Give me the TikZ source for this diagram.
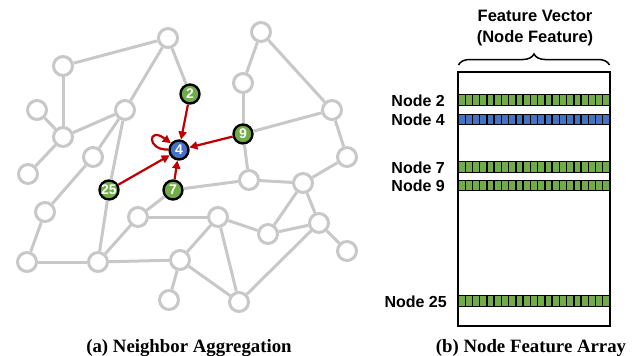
\documentclass[tikz,border=0pt]{standalone}
\usepackage{fontspec}
\setmainfont{Liberation Serif}
\newfontfamily\arial{Liberation Sans}
\usetikzlibrary{arrows.meta,decorations.pathreplacing}
\definecolor{edgegray}{RGB}{200,200,200}
\definecolor{ngreen}{RGB}{112,173,71}
\definecolor{nblue}{RGB}{68,114,196}
\definecolor{ared}{RGB}{192,0,0}
\tikzset{
  gnode/.style={circle,draw=edgegray,line width=3pt,fill=white,minimum size=19pt,inner sep=0pt},
  cnode/.style={circle,draw=black,line width=2.4pt,minimum size=19pt,inner sep=0pt,text=white,font=\arial\bfseries\fontsize{14}{14}\selectfont},
  gedge/.style={draw=edgegray,line width=3pt},
  redarr/.style={draw=ared,line width=2.2pt,-{Triangle[length=8pt,width=8pt]}},
  rowlabel/.style={anchor=base east,inner sep=0pt,font=\arial\bfseries\fontsize{16}{16}\selectfont},
  caption/.style={anchor=base,inner sep=0pt,font=\bfseries\fontsize{18.8}{20}\selectfont},
  title/.style={anchor=base,inner sep=0pt,font=\arial\bfseries\fontsize{16.5}{18}\selectfont},
  cell/.style={draw=black,line width=1.4pt}
}
\begin{document}
\begin{tikzpicture}[x=1pt,y=-1pt]
\useasboundingbox (0,0) rectangle (635,356);
% gray nodes
\node[gnode] (A) at (168,38) {};
\node[gnode] (B) at (63,66) {};
\node[gnode] (C) at (37,110) {};
\node[gnode] (D) at (63,137) {};
\node[gnode] (E) at (125,110) {};
\node[gnode] (F) at (93,157) {};
\node[gnode] (G) at (28,174) {};
\node[gnode] (T) at (45,212) {};
\node[gnode] (U) at (27,262) {};
\node[gnode] (V) at (98,262) {};
\node[gnode] (W) at (138,217) {};
\node[gnode] (S) at (180,260) {};
\node[gnode] (X) at (169,300) {};
\node[gnode] (H) at (261,32) {};
\node[gnode] (I) at (243,83) {};
\node[gnode] (J) at (332,110) {};
\node[gnode] (K) at (347,157) {};
\node[gnode] (L) at (249,180) {};
\node[gnode] (M) at (303,183) {};
\node[gnode] (N) at (218,217) {};
\node[gnode] (O) at (268,234) {};
\node[gnode] (P) at (319,223) {};
\node[gnode] (Q) at (347,251) {};
\node[gnode] (R) at (239,302) {};
% colored nodes
\node[cnode,fill=ngreen] (n2) at (190,94) {2};
\node[cnode,fill=nblue] (n4) at (179,150) {4};
\node[cnode,fill=ngreen] (n7) at (173,190) {7};
\node[cnode,fill=ngreen] (n9) at (243,134) {9};
\node[cnode,fill=ngreen] (n25) at (109,190) {25};
% gray edges
\foreach \a/\b in {A/B,A/E,A/n2,B/D,C/D,D/E,D/G,E/F,E/n25,F/T,T/U,U/V,V/n25,V/W,W/n7,W/N,V/S,S/X,S/N,S/R,N/R,N/O,O/M,O/P,M/P,M/L,M/K,L/n7,L/n9,n9/I,n9/J,I/H,H/J,J/K,P/Q,P/R}
  \path[gedge] (\a) -- (\b);
% red arrows
\draw[redarr] (n2) -- (n4);
\draw[redarr] (n9) -- (n4);
\draw[redarr] (n25) -- (n4);
\draw[redarr] (n7) -- (n4);
\draw[redarr] (n4.178) .. controls (146,150) and (148,126) .. (n4.140);
% right panel
\node[title] (t1) at (535,21.7) {Feature Vector};
\node[title] (t2) at (535,42) {(Node Feature)};
\draw[line width=1.5pt,decorate,decoration={brace,amplitude=11pt}] (458.5,65) -- (609.5,65);
\draw[line width=1.5pt] (458,72) rectangle (610,326);
\foreach \yc/\col in {100/ngreen,119.5/nblue,167/ngreen,185.5/ngreen,301/ngreen}{
  \foreach \i in {0,...,20}{
    \path[cell,fill=\col] (458+\i*7.238,\yc-5.25) rectangle ++(7.238,10.5);
  }
}
\node[rowlabel] (l2) at (445,106) {Node 2};
\node[rowlabel] (l4) at (445,125.5) {Node 4};
\node[rowlabel] (l7) at (445,173) {Node 7};
\node[rowlabel] (l9) at (445,191.5) {Node 9};
\node[rowlabel] (l25) at (447,307) {Node 25};
% captions
\node[caption] (ca) at (189,352.5) {(a) Neighbor Aggregation};
\node[caption] (cb) at (531,352.5) {(b) Node Feature Array};
\end{tikzpicture}
\end{document}
